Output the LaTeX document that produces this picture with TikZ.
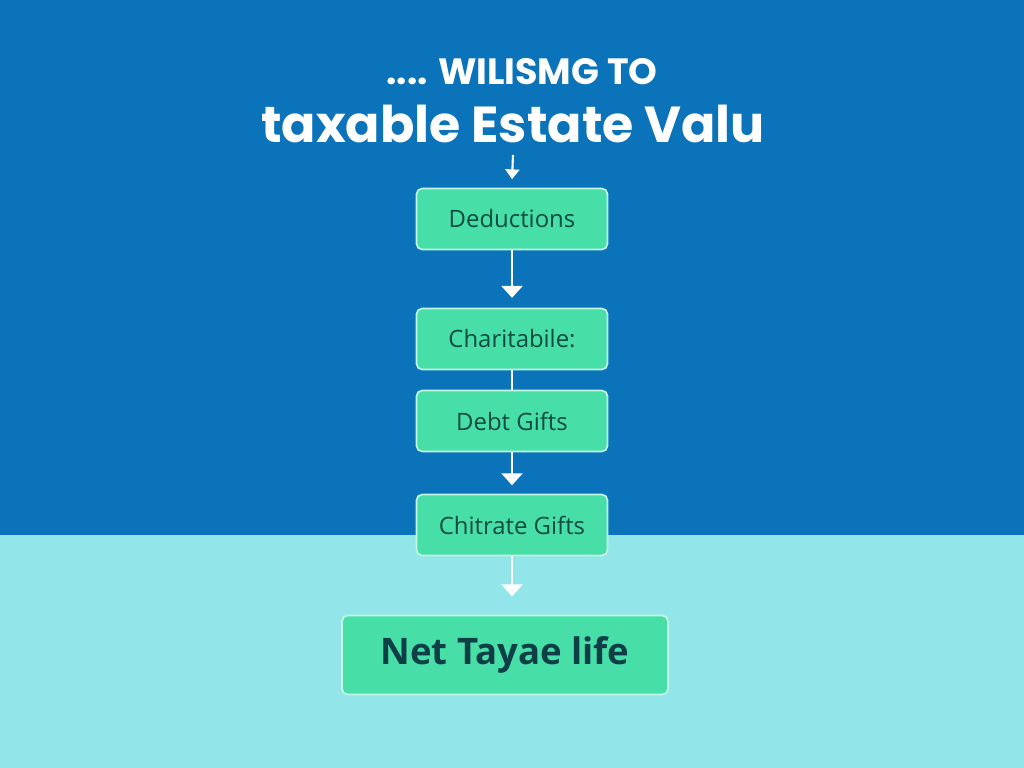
\documentclass[tikz,border=0pt]{standalone}
\usepackage{fontspec}
\setmainfont{Open Sans}
\newfontfamily\titlefont{Poppins}
\usetikzlibrary{arrows.meta}
\definecolor{topblue}{HTML}{0B73BA}
\definecolor{lowcyan}{HTML}{92E5E9}
\definecolor{boxgreen}{HTML}{47DFA7}
\definecolor{boxedge}{HTML}{C4F6E4}
\definecolor{boxtext}{HTML}{0F4B40}
\definecolor{nettext}{HTML}{0E3F47}
\tikzset{
  stepbox/.style={draw=boxedge, line width=1.2pt, fill=boxgreen, rounded corners=4pt,
    minimum width=191*0.025cm, minimum height=61*0.025cm, inner sep=0pt,
    text=boxtext, font=\fontsize{17}{20}\selectfont},
  netbox/.style={stepbox, minimum width=326*0.025cm, minimum height=79*0.025cm,
    text=nettext, font=\fontsize{26}{30}\selectfont\bfseries},
  flow/.style={draw=white, line width=1.5pt, -{Triangle[width=15pt,length=8.5pt]}},
  link/.style={draw=white, line width=1.5pt}
}
\begin{document}
\begin{tikzpicture}[x=0.025cm,y=-0.025cm]
  \useasboundingbox (0,0) rectangle (1024,768);
  \fill[topblue] (0,0) rectangle (1024,535);
  \fill[lowcyan] (0,535) rectangle (1024,768);
  % titel
  \node[text=white, font=\titlefont\fontsize{26}{28}\selectfont\bfseries] (head) at (522,72) {.... WILISMG TO};
  \node[text=white, font=\titlefont\fontsize{36}{40}\selectfont\bfseries] (title) at (513,124) {taxable Estate Valu};
  \coordinate (tstart) at (513,155);
  % stappen
  \node[stepbox] (ded) at (512,219) {Deductions};
  \node[stepbox] (char) at (512,339) {Charitabile:};
  \node[stepbox] (debt) at (512,421) {Debt Gifts};
  \node[stepbox] (chit) at (512,525) {Chitrate Gifts};
  \node[netbox] (net) at (505,655) {Net Tayae life};
  \draw[link, -{Triangle[width=10pt,length=7pt]}] (tstart) -- ([yshift=6pt]ded.north);
  \draw[flow] (ded) -- ([yshift=7pt]char.north);
  \draw[link] (char) -- (debt);
  \draw[flow] (debt) -- ([yshift=6pt]chit.north);
  \draw[flow] (chit) -- ([xshift=7*0.025cm, yshift=13pt]net.north);
\end{tikzpicture}
\end{document}
